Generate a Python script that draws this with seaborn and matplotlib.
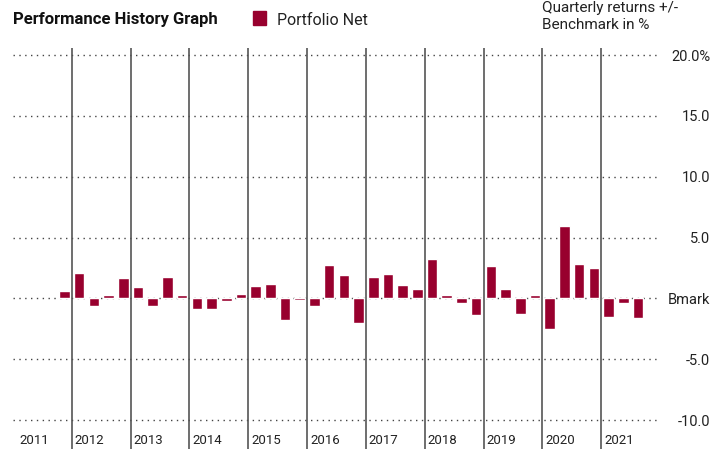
import numpy as np
import pandas as pd
import matplotlib
matplotlib.use("Agg")
import matplotlib.pyplot as plt
from matplotlib.patches import Rectangle
import seaborn as sns

years = [2011, 2012, 2013, 2014, 2015, 2016, 2017, 2018, 2019, 2020, 2021]
quarters = ["Q1", "Q2", "Q3", "Q4"]
# quarterly excess return vs benchmark, %, per year Q1..Q4 (nan = no data)
r2011 = [np.nan, np.nan, np.nan, 0.6]
r2012 = [2.1, -0.65, 0.25, 1.65]
r2013 = [0.9, -0.65, 1.75, 0.25]
r2014 = [-0.9, -0.9, -0.25, 0.35]
r2015 = [1.0, 1.15, -1.8, -0.15]
r2016 = [-0.65, 2.75, 1.9, -2.0]
r2017 = [1.75, 2.0, 1.1, 0.75]
r2018 = [3.2, 0.25, -0.35, -1.4]
r2019 = [2.65, 0.75, -1.3, 0.25]
r2020 = [-2.5, 5.95, 2.8, 2.5]
r2021 = [-1.55, -0.4, -1.65, np.nan]
yticks = [20, 15, 10, 5, 0, -5, -10]
ytick_labels = ["20.0%", "15.0", "10.0", "5.0", "Bmark", "-5.0", "-10.0"]

BAR = "#98002E"


def main():
    sns.set_style("white")
    plt.rcParams["font.family"] = ["Roboto", "DejaVu Sans"]

    allvals = [r2011, r2012, r2013, r2014, r2015, r2016, r2017, r2018, r2019, r2020, r2021]
    rows = []
    for i, (yr, vals) in enumerate(zip(years, allvals)):
        for j, v in enumerate(vals):
            rows.append({"year": yr, "quarter": quarters[j], "pos": i * 4 + j, "ret": v})
    df = pd.DataFrame(rows).dropna()

    fig = plt.figure(figsize=(7.11, 4.49), dpi=100)
    ax = fig.add_axes([13 / 711, 0, 647 / 711, 401 / 449])

    for t in yticks:
        ax.axhline(t, color="#444444", lw=1, ls=(0, (1, 3.2)), zorder=0)

    sns.barplot(data=df, x="pos", y="ret", native_scale=True, color=BAR,
                width=0.72, saturation=1, ax=ax, zorder=2)

    for i in range(1, len(years)):
        ax.axvline(i * 4 - 0.5, color="#555555", lw=1.2, zorder=3)

    ax.set_xlim(-0.5, len(years) * 4 - 0.5)
    ax.set_ylim(-12.38, 20.58)
    ax.set_xticks([])
    ax.set_xlabel("")
    ax.set_ylabel("")
    ax.yaxis.tick_right()
    ax.set_yticks(yticks)
    ax.set_yticklabels(ytick_labels, fontsize=10.5, color="#222222", ha="right")
    ax.tick_params(axis="y", length=0, pad=36)
    for s in ax.spines.values():
        s.set_visible(False)

    for i, yr in enumerate(years):
        off = 0.45 if i == 0 else 0.2
        ax.text(i * 4 - 0.5 + off, 5 / 401, str(yr), transform=ax.get_xaxis_transform(),
                fontsize=9.5, color="#222222", va="baseline", ha="left")

    fig.text(13 / 711, 1 - 24 / 449, "Performance History Graph", fontsize=12,
             fontweight="bold", color="#111111", va="baseline")
    fig.patches.append(Rectangle((253 / 711, 1 - 25 / 449), 13 / 711, 14 / 449,
                                 transform=fig.transFigure, color=BAR))
    fig.text(277 / 711, 1 - 25 / 449, "Portfolio Net", fontsize=11.5,
             color="#222222", va="baseline")
    fig.text(542 / 711, 1 - 1 / 449, "Quarterly returns +/-\nBenchmark in %",
             fontsize=11, color="#222222", va="top", linespacing=1.3)

    fig.savefig("out.png", dpi=100)


if __name__ == "__main__":
    main()
